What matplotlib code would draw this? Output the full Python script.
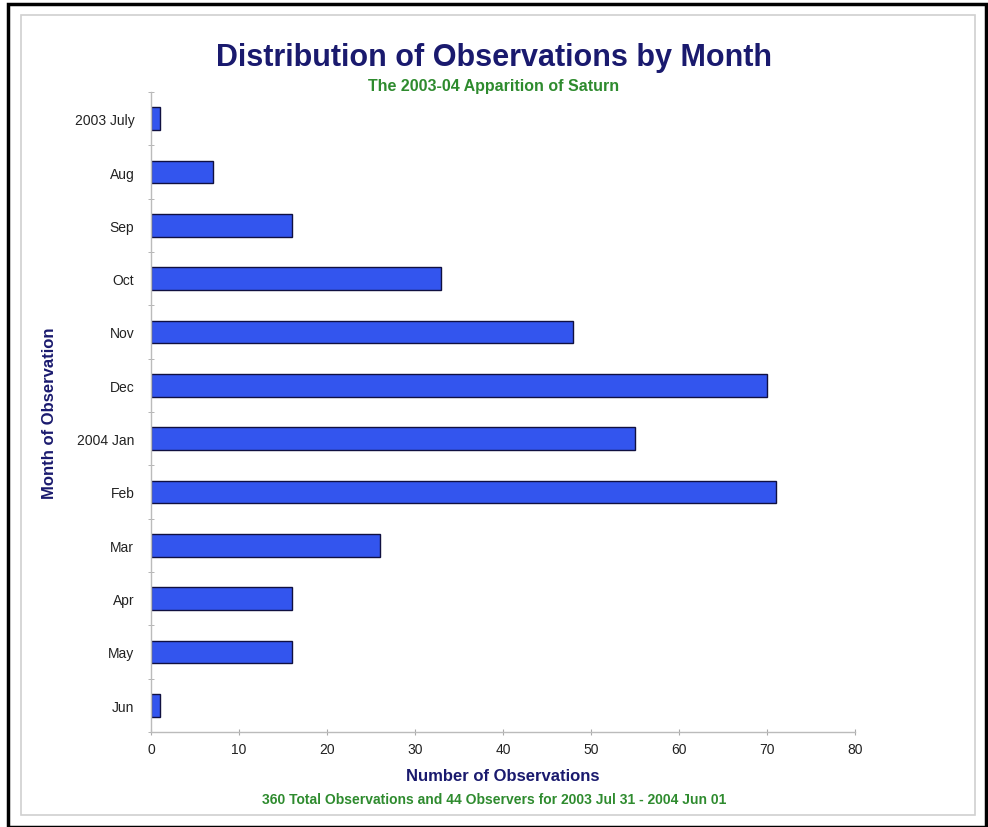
import numpy as np
import matplotlib as mpl
mpl.use('Agg')
import matplotlib.pyplot as plt
from matplotlib.patches import Rectangle

plt.rcParams['font.family'] = ['Liberation Sans', 'DejaVu Sans']

# data
months = ['2003 July', 'Aug', 'Sep', 'Oct', 'Nov', 'Dec',
          '2004 Jan', 'Feb', 'Mar', 'Apr', 'May', 'Jun']
counts = [1, 7, 16, 33, 48, 70, 55, 71, 26, 16, 16, 1]
x_ticks = [0, 10, 20, 30, 40, 50, 60, 70, 80]

navy = '#1a1a6e'
green = '#2e8b2e'
bar_color = '#3355ee'

fig = plt.figure(figsize=(9.88, 8.28), dpi=100)

# outer black frame and inner light frame
fig.patches.append(Rectangle((0.008, 0.0), 0.99, 0.994, transform=fig.transFigure,
                             fill=False, edgecolor='black', linewidth=2.5))
fig.patches.append(Rectangle((0.021, 0.015), 0.966, 0.966, transform=fig.transFigure,
                             fill=False, edgecolor='#d0d0d0', linewidth=1.2))

ax = fig.add_axes([151 / 988, 1 - 733 / 828, (855 - 151) / 988, (733 - 93) / 828])

y = np.arange(len(months))
ax.barh(y, counts, height=0.42, color=bar_color, edgecolor='#101040', linewidth=1.0)

ax.set_ylim(len(months) - 0.5, -0.5)
ax.set_xlim(0, 80)
ax.set_xticks(x_ticks)
ax.set_xticklabels([str(t) for t in x_ticks], fontsize=10, color='#222222')
ax.set_yticks(y)
ax.set_yticklabels(months, fontsize=10, color='#222222')
ax.tick_params(axis='y', length=0, pad=12)
ax.tick_params(axis='x', length=4, direction='inout', color='#aaaaaa', pad=5)
ax.set_yticks(np.arange(len(months) + 1) - 0.5, minor=True)
ax.tick_params(axis='y', which='minor', length=4, direction='inout', color='#aaaaaa')

for s in ['top', 'right']:
    ax.spines[s].set_visible(False)
for s in ['left', 'bottom']:
    ax.spines[s].set_color('#bbbbbb')
    ax.spines[s].set_linewidth(1.0)

ax.set_xlabel('Number of Observations', fontsize=12, fontweight='bold', color=navy, labelpad=9)
ax.set_ylabel('Month of Observation', fontsize=12, fontweight='bold', color=navy, labelpad=13)

fig.text(0.5, 1 - 58 / 828, 'Distribution of Observations by Month', ha='center', va='center',
         fontsize=22, fontweight='bold', color=navy)
fig.text(0.5, 1 - 87 / 828, 'The 2003-04 Apparition of Saturn', ha='center', va='center',
         fontsize=11.5, fontweight='bold', color=green)
fig.text(0.5, 1 - 800 / 828, '360 Total Observations and 44 Observers for 2003 Jul 31 - 2004 Jun 01',
         ha='center', va='center', fontsize=10, fontweight='bold', color=green)

fig.savefig('out.png', dpi=100)
